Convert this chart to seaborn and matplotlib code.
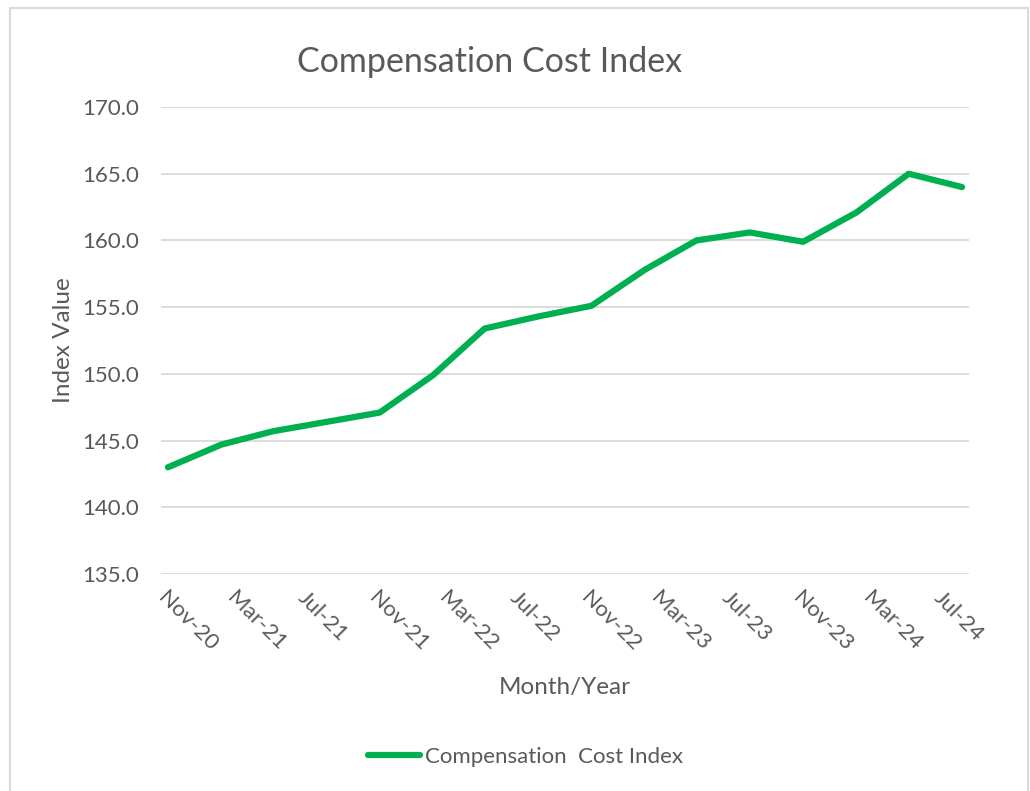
import pandas as pd
import seaborn as sns
import matplotlib.pyplot as plt
import matplotlib.dates as mdates
from matplotlib.patches import Rectangle

# quarterly index values, Nov-20 .. Aug-24
dates = pd.date_range("2020-11-01", periods=16, freq="3MS")
index_values = [143.0, 144.7, 145.7, 146.4, 147.1, 149.9, 153.4, 154.3,
                155.1, 157.8, 160.0, 160.6, 159.9, 162.1, 165.0, 164.0]
tick_dates = pd.date_range("2020-11-01", "2024-07-01", freq="4MS")
y_ticks = [135, 140, 145, 150, 155, 160, 165, 170]

df = pd.DataFrame({"Month/Year": dates, "Index Value": index_values})

sns.set_style("white")
plt.rcParams['font.family'] = ['Lato', 'DejaVu Sans']
grey = "#595959"
green = "#00b050"

fig = plt.figure(figsize=(10.30, 7.91), dpi=100)
ax = fig.add_axes([0.1563, 0.2743, 0.7845, 0.5904])

sns.lineplot(data=df, x="Month/Year", y="Index Value", ax=ax, color=green,
             linewidth=4.5, label="Compensation  Cost Index")

ax.set_ylim(135, 170)
ax.set_yticks(y_ticks)
ax.set_yticklabels([f"{v:.1f}" for v in y_ticks])
pad = pd.Timedelta(days=12)
ax.set_xlim(dates[0] - pad, dates[-1] + pad)
ax.set_xticks(tick_dates)
ax.xaxis.set_major_formatter(mdates.DateFormatter("%b-%y"))
plt.setp(ax.get_xticklabels(), rotation=-45, ha="left", rotation_mode="anchor")

ax.grid(axis="y", color="#d9d9d9", linewidth=1.3)
ax.grid(axis="x", visible=False)
for s in ax.spines.values():
    s.set_visible(False)
ax.tick_params(axis="both", length=0, labelsize=16, labelcolor=grey)
ax.tick_params(axis="y", pad=16)
ax.tick_params(axis="x", pad=10)

ax.set_xlabel("Month/Year", fontsize=17.5, color=grey, labelpad=16)
ax.set_ylabel("Index Value", fontsize=17.5, color=grey, labelpad=6)
fig.text(0.475, 0.922, "Compensation Cost Index", fontsize=24.5, color=grey,
         ha="center", va="center")

leg = ax.legend(loc="center", bbox_to_anchor=(0.51, 0.043), bbox_transform=fig.transFigure,
                frameon=False, fontsize=16, handlelength=2.35, handletextpad=0.2)
for t in leg.get_texts():
    t.set_color(grey)

fig.patches.append(Rectangle((10 / 1030, -0.01), 1018 / 1030, 1 - 8 / 791 + 0.01,
                             transform=fig.transFigure, fill=False,
                             edgecolor="#d9d9d9", linewidth=1.5))

fig.savefig("out.png", dpi=100)
